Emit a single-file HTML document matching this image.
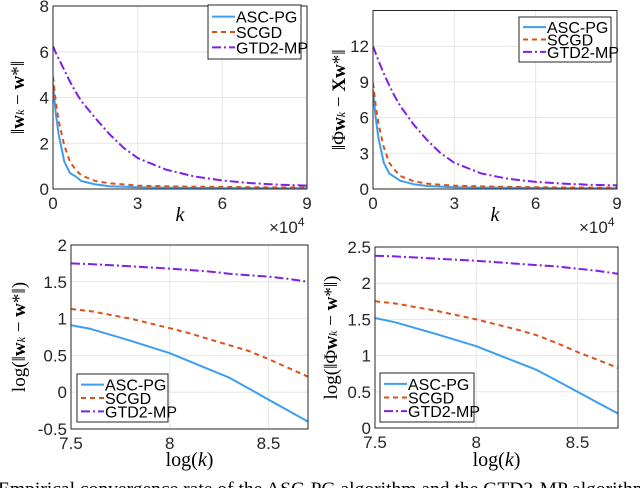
<!DOCTYPE html>
<html><head><meta charset="utf-8"><style>
html,body{margin:0;padding:0;background:#fff;overflow:hidden}
svg{display:block}
text{font-family:"Liberation Sans",sans-serif}
.serif{font-family:"Liberation Serif",serif}
</style></head><body>
<svg id="s" width="640" height="488" viewBox="0 0 640 488" xmlns="http://www.w3.org/2000/svg">
<text class="serif" x="-2" y="495" font-size="19" textLength="650" lengthAdjust="spacingAndGlyphs">Empirical convergence rate of the ASC-PG algorithm and the GTD2-MP algorithm</text>
</svg>
<script>
// ---- data: top-left (||w_k - w*||) ----
const kTop = [0,0.1,0.2,0.4,0.6,0.8,1,1.5,2,2.5,3,4,5,6,7,8,9];
const tlASC = [4.6,3.3,2.4,1.2,0.7,0.55,0.35,0.2,0.12,0.1,0.08,0.06,0.05,0.04,0.04,0.03,0.03];
const tlSCGD = [4.9,3.8,3.0,1.9,1.2,0.85,0.6,0.35,0.25,0.2,0.15,0.12,0.1,0.09,0.08,0.07,0.07];
const tlGTD = [6.25,5.95,5.7,5.2,4.7,4.25,3.85,3.1,2.4,1.8,1.35,0.85,0.55,0.37,0.26,0.19,0.15];
// ---- data: top-right (||Phi w_k - X w*||) ----
const trASC = [8.3,6.0,4.3,2.2,1.3,1.0,0.7,0.4,0.25,0.2,0.15,0.12,0.1,0.08,0.07,0.06,0.06];
const trSCGD = [8.9,7.0,5.5,3.5,2.2,1.6,1.1,0.65,0.45,0.35,0.28,0.22,0.18,0.15,0.13,0.12,0.11];
const trGTD = [12,11.4,10.8,9.7,8.7,7.8,7.0,5.4,4.1,3.0,2.2,1.3,0.85,0.6,0.45,0.35,0.3];
// ---- data: bottom (log-log) ----
const logK = [7.5,7.6,7.8,8.0,8.1,8.2,8.3,8.4,8.5,8.6,8.7];
const blASC = [0.91,0.86,0.70,0.53,0.42,0.31,0.20,0.05,-0.10,-0.25,-0.40];
const blSCGD = [1.13,1.10,1.00,0.87,0.80,0.72,0.64,0.56,0.45,0.33,0.21];
const blGTD = [1.75,1.74,1.71,1.68,1.66,1.64,1.61,1.59,1.57,1.54,1.50];
const brASC = [1.52,1.46,1.30,1.13,1.02,0.91,0.80,0.65,0.50,0.35,0.20];
const brSCGD = [1.75,1.72,1.62,1.50,1.43,1.36,1.28,1.17,1.05,0.94,0.83];
const brGTD = [2.38,2.37,2.34,2.31,2.29,2.27,2.25,2.23,2.20,2.17,2.13];
const topXTicks = [0,3,6,9];
const tlYTicks = [0,2,4,6,8];
const trYTicks = [0,3,6,9,12];
const blYTicks = [-0.5,0,0.5,1,1.5,2];
const brYTicks = [0,0.5,1,1.5,2,2.5];
const botXTicks = [7.5,8,8.5];
const seriesNames = ['ASC-PG','SCGD','GTD2-MP'];

const NS='http://www.w3.org/2000/svg';
const svg=document.getElementById('s');
const COL=['#3d9df0','#d95319','#7f1fe8'];
const DASH=['','5,4','9,3,2,3'];
function mk(tag,attrs,parent){const e=document.createElementNS(NS,tag);for(const k in attrs)e.setAttribute(k,attrs[k]);(parent||svg).appendChild(e);return e;}

function panel(id,box,xd,yd,xt,yt,xs,ys,legend,ylabel,xlabel,sci){
  const g=mk('g',{});
  
  
  const X=v=>box.l+(v-xd[0])/(xd[1]-xd[0])*(box.r-box.l);
  const Y=v=>box.b-(v-yd[0])/(yd[1]-yd[0])*(box.b-box.t);
  mk('rect',{x:box.l,y:box.t,width:box.r-box.l,height:box.b-box.t,fill:'#fff'},g);
  xt.forEach(v=>{
    const l=mk('line',{x1:X(v),x2:X(v),y1:box.t,y2:box.b,stroke:'#e6e6e6','stroke-width':1},g);
    
    
    const t=mk('text',{x:X(v),y:box.b+20,'font-size':17,'text-anchor':'middle',fill:'#262626'},g);
    t.textContent=String(v);
    
    
  });
  yt.forEach(v=>{
    const l=mk('line',{x1:box.l,x2:box.r,y1:Y(v),y2:Y(v),stroke:'#e6e6e6','stroke-width':1},g);
    
    
    const t=mk('text',{x:box.l-4,y:Y(v)+6,'font-size':17,'text-anchor':'end',fill:'#262626'},g);
    t.textContent=String(v);
    
    
  });
  const clip='c'+id;
  const cp=mk('clipPath',{id:clip},g);mk('rect',{x:box.l,y:box.t,width:box.r-box.l,height:box.b-box.t},cp);
  ys.forEach((arr,i)=>{
    const d=arr.map((v,j)=>(j?'L':'M')+X(xs[j]).toFixed(1)+','+Y(v).toFixed(1)).join(' ');
    const p=mk('path',{d:d,fill:'none',stroke:COL[i],'stroke-width':2,'stroke-dasharray':DASH[i],'stroke-linejoin':'round','clip-path':'url(#'+clip+')'},g);
    
    
  });
  mk('rect',{x:box.l,y:box.t,width:box.r-box.l,height:box.b-box.t,fill:'none',stroke:'#262626','stroke-width':1},g);
  const lg=mk('g',{},g);
  
  
  mk('rect',{x:legend.x,y:legend.y,width:legend.w,height:legend.h,fill:'#fff',stroke:'#262626','stroke-width':1},lg);
  const step=(legend.h-8)/3;
  seriesNames.forEach((n,i)=>{
    const cy=legend.y+4+step*(i+0.5);
    const ln=mk('line',{x1:legend.x+4,x2:legend.x+27,y1:cy,y2:cy,stroke:COL[i],'stroke-width':2,'stroke-dasharray':DASH[i]},lg);
    
    
    const t=mk('text',{x:legend.x+28,y:cy+6,'font-size':16,fill:'#000'},lg);
    t.textContent=n;
    
    
  });
  const yl=mk('text',{class:'serif',x:0,y:0,'font-size':19,'text-anchor':'middle',transform:`translate(${ylabel.x},${(box.t+box.b)/2}) rotate(-90)`},g);
  yl.innerHTML=ylabel.html;
  
  
  const xl=mk('text',{class:'serif',x:(box.l+box.r)/2,y:xlabel.y,'font-size':20,'text-anchor':'middle'},g);
  xl.innerHTML=xlabel.html;
  
  
  if(sci){
    const s=mk('text',{x:box.r-38,y:box.b+44,'font-size':17,fill:'#262626'},g);
    s.innerHTML='×10<tspan font-size="12" dy="-7">4</tspan>';
    
    
  }
}
panel('panel-top-left',{l:53,r:307,t:6,b:189},[0,9],[0,8],topXTicks,tlYTicks,kTop,[tlASC,tlSCGD,tlGTD],
  {x:208,y:5,w:93,h:54},{x:24,html:'‖<tspan font-weight="bold">w</tspan><tspan font-size="12" font-style="italic">k</tspan> − <tspan font-weight="bold">w</tspan>*‖'},{y:221,html:'<tspan font-style="italic">k</tspan>'},true);
panel('panel-top-right',{l:373,r:617,t:10.5,b:189},[0,9],[0,15],topXTicks,trYTicks,kTop,[trASC,trSCGD,trGTD],
  {x:519,y:17,w:92,h:45},{x:345,html:'‖Φ<tspan font-weight="bold">w</tspan><tspan font-size="12" font-style="italic">k</tspan> − <tspan font-weight="bold">X</tspan><tspan font-weight="bold">w</tspan>*‖'},{y:221,html:'<tspan font-style="italic">k</tspan>'},true);
panel('panel-bottom-left',{l:71,r:308,t:245,b:429},[7.5,8.7],[-0.5,2],botXTicks,blYTicks,logK,[blASC,blSCGD,blGTD],
  {x:77,y:374,w:91,h:48},{x:25,html:'log(‖<tspan font-weight="bold">w</tspan><tspan font-size="12" font-style="italic">k</tspan> − <tspan font-weight="bold">w</tspan>*‖)'},{y:466,html:'log(<tspan font-style="italic">k</tspan>)'},false);
panel('panel-bottom-right',{l:375,r:618,t:247,b:428},[7.5,8.7],[0,2.5],botXTicks,brYTicks,logK,[brASC,brSCGD,brGTD],
  {x:380,y:373,w:94,h:49},{x:337,html:'log(‖Φ<tspan font-weight="bold">w</tspan><tspan font-size="12" font-style="italic">k</tspan> − <tspan font-weight="bold">w</tspan>*‖)'},{y:466,html:'log(<tspan font-style="italic">k</tspan>)'},false);
</script>
</body></html>
